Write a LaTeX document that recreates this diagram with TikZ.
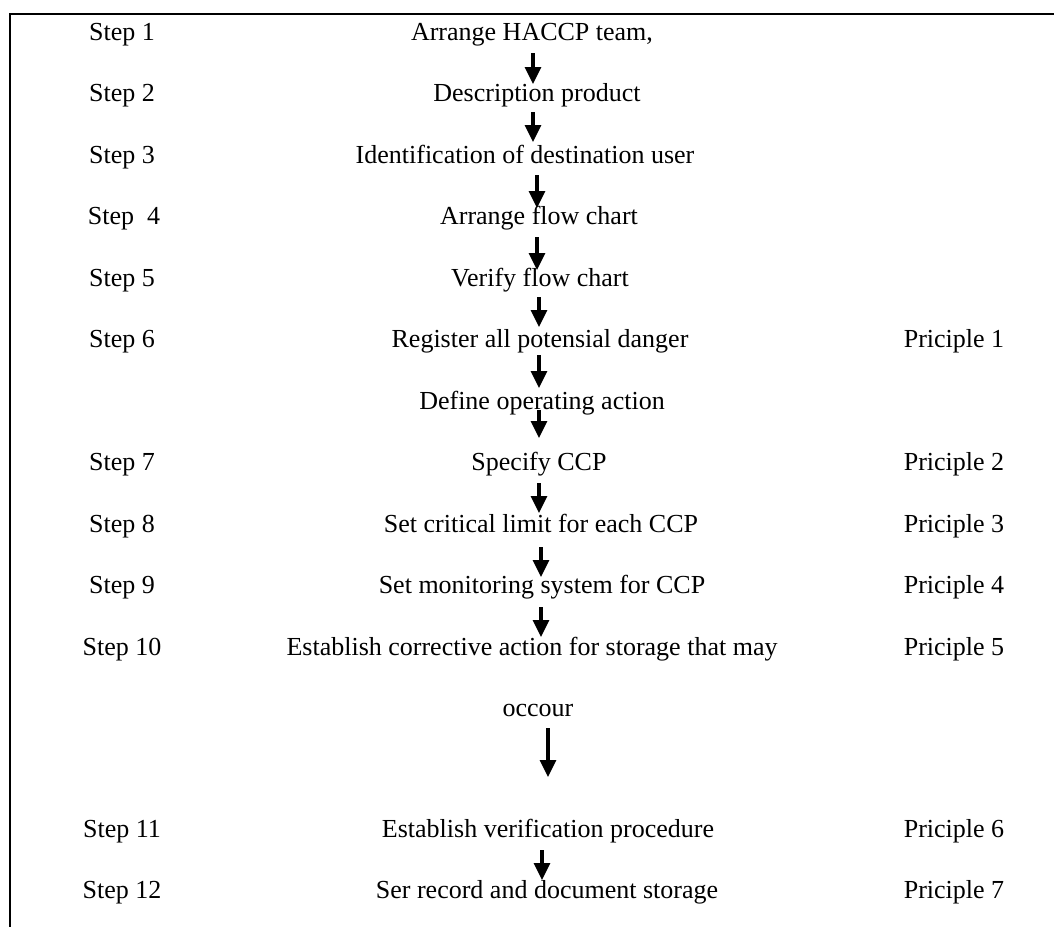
\documentclass[tikz,border=0pt]{standalone}
\usepackage{fontspec}
\setmainfont{Liberation Serif}
\usetikzlibrary{arrows.meta, calc}

\begin{document}
\begin{tikzpicture}[x=0.5pt, y=-0.5pt,
  txt/.style={anchor=base, inner sep=0pt, font=\fontsize{13}{15}\selectfont},
  flow/.style={line width=1.6pt, -{Triangle[width=8pt, length=8.5pt]}}]
\useasboundingbox (0,0) rectangle (1054,927);
\draw[line width=1pt] (1054,14) coordinate (tr) -- (10,14) coordinate (tl) -- (10,927) coordinate (bl);
\path
(122,40) node[txt] (s1) {Step 1};
\path
(122,101) node[txt] (s2) {Step 2};
\path
(122,163) node[txt] (s3) {Step 3};
\path
(124,224) node[txt] (s4) {Step\ \ 4};
\path
(122,286) node[txt] (s5) {Step 5};
\path
(122,347) node[txt] (s6) {Step 6};
\path
(122,470) node[txt] (s7) {Step 7};
\path
(122,532) node[txt] (s8) {Step 8};
\path
(122,593) node[txt] (s9) {Step 9};
\path
(122,655) node[txt] (s10) {Step 10};
\path
(122,837) node[txt] (s11) {Step 11};
\path
(122,898) node[txt] (s12) {Step 12};
\path
(532,40) node[txt] (team) {Arrange HACCP team,};
\path
(537,101) node[txt] (product) {Description product};
\path
(525,163) node[txt] (user) {Identification of destination user};
\path
(539,224) node[txt] (chart) {Arrange flow chart};
\path
(540,286) node[txt] (verify) {Verify flow chart};
\path
(540,347) node[txt] (danger) {Register all potensial danger};
\path
(542,409) node[txt] (action) {Define operating action};
\path
(539,470) node[txt] (ccp) {Specify CCP};
\path
(541,532) node[txt] (limit) {Set critical limit for each CCP};
\path
(542,593) node[txt] (monitor) {Set monitoring system for CCP};
\path
(532,655) node[txt] (corrective) {Establish corrective action for storage that may};
\path
(538,716) node[txt] (occour) {occour};
\path
(548,837) node[txt] (verification) {Establish verification procedure};
\path
(547,898) node[txt] (record) {Ser record and document storage};
\path
(954,347) node[txt] (p1) {Priciple 1};
\path
(954,470) node[txt] (p2) {Priciple 2};
\path
(954,532) node[txt] (p3) {Priciple 3};
\path
(954,593) node[txt] (p4) {Priciple 4};
\path
(954,655) node[txt] (p5) {Priciple 5};
\path
(954,837) node[txt] (p6) {Priciple 6};
\path
(954,898) node[txt] (p7) {Priciple 7};
\foreach \a/\b/\x/\s/\e in {team/product/533/13/17, product/user/533/11/21, user/chart/537/12/16, chart/verify/537/13/16, verify/danger/539/11/20, danger/action/539/8/21, action/ccp/539/1/32, ccp/limit/539/13/19, limit/monitor/541/15/16, monitor/corrective/541/14/18, occour/verification/548/12/60, verification/record/542/13/18}
{\coordinate (ax) at (\x,0);
\draw[flow] ($(\a.base -| ax)+(0,\s)$) -- ($(\b.base -| ax)-(0,\e)$);}
\end{tikzpicture}
\end{document}
